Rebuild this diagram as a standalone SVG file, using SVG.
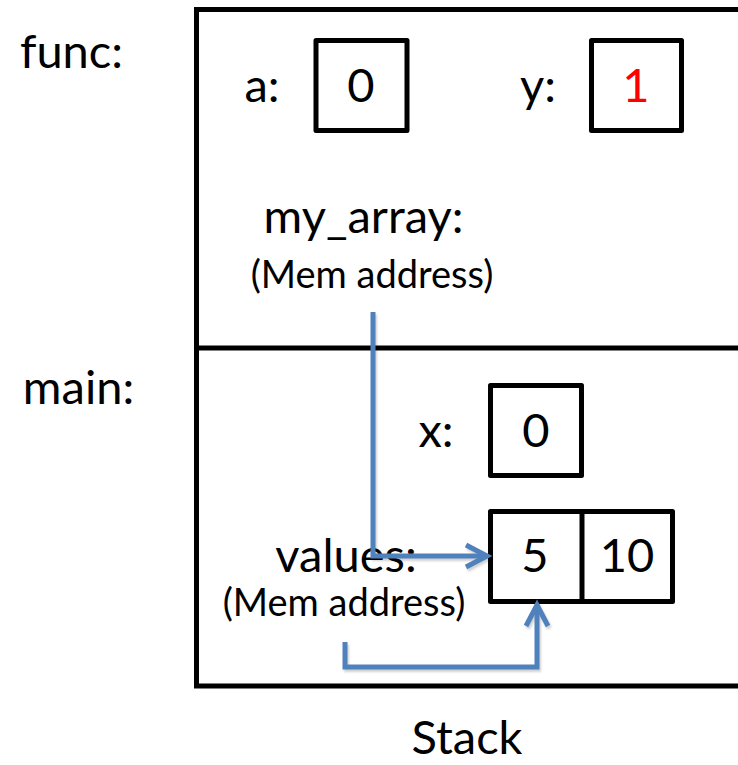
<svg xmlns="http://www.w3.org/2000/svg" width="738" height="765" viewBox="0 0 738 765">
  <style>
    .frame { fill: none; stroke: #000; stroke-width: 5; }
    .cell { fill: #fff; stroke: #000; stroke-width: 5; stroke-linejoin: round; }
    .t { font-family: Lato, "Open Sans", "Liberation Sans", sans-serif; fill: #000; text-anchor: middle; }
    .lbl { font-size: 47px; }
    .small { font-size: 38px; }
    .ptr { fill: none; stroke: #4F81BD; stroke-width: 5; stroke-linejoin: miter; }
    .shadow { fill: none; stroke: #000; stroke-opacity: 0.18; stroke-width: 5; }
  </style>
  <defs>
    <filter id="soft" x="-10%" y="-10%" width="120%" height="120%">
      <feGaussianBlur stdDeviation="1.2"/>
    </filter>
  </defs>

  <!-- stack frame, open on the right -->
  <g id="stack">
    <path class="frame" d="M 740 9.5 H 196.5 V 686 H 740"/>
    <line class="frame" x1="196.5" y1="348" x2="740" y2="348"/>
    <text class="t lbl" x="467" y="754">Stack</text>
  </g>

  <!-- frame labels -->
  <g id="func-label"><text class="t lbl" x="71.5" y="68">func:</text></g>
  <g id="main-label"><text class="t lbl" x="78.5" y="404">main:</text></g>

  <!-- func frame -->
  <g id="var-a">
    <text class="t lbl" x="262" y="102">a:</text>
    <rect class="cell" x="316" y="40.5" width="91" height="90"/>
    <text class="t lbl" x="361" y="102">0</text>
  </g>
  <g id="var-y">
    <text class="t lbl" x="538" y="102">y:</text>
    <rect class="cell" x="591.5" y="40.5" width="90" height="90"/>
    <text class="t lbl" x="636" y="102" style="fill:#FF0000">1</text>
  </g>
  <g id="var-my_array">
    <text class="t lbl" x="363.5" y="233">my_array:</text>
    <text class="t small" x="372" y="288">(Mem address)</text>
  </g>

  <!-- main frame -->
  <g id="var-x">
    <text class="t lbl" x="436" y="447">x:</text>
    <rect class="cell" x="490.5" y="385.5" width="91" height="90"/>
    <text class="t lbl" x="536" y="447">0</text>
  </g>
  <g id="var-values">
    <text class="t lbl" x="346" y="572">values:</text>
    <text class="t small" x="344" y="616">(Mem address)</text>
  </g>
  <g id="array">
    <rect class="cell" x="490.5" y="511.5" width="182" height="90"/>
    <line class="cell" x1="582" y1="511.5" x2="582" y2="601.5"/>
    <text class="t lbl" x="535" y="572">5</text>
    <text class="t lbl" x="627" y="572">10</text>
  </g>

  <!-- pointer connectors -->
  <g id="connectors">
    <g filter="url(#soft)" transform="translate(1.5,2.5)">
      <path class="shadow" d="M 373 312 V 556 H 486 M 466 545 L 487 556 L 466 567"/>
      <path class="shadow" d="M 345 642 V 667 H 537 V 606 M 526 626 L 537 605 L 548 626"/>
    </g>
    <path class="ptr" d="M 373 312 V 556 H 486"/>
    <path class="ptr" d="M 466 545 L 487 556 L 466 567"/>
    <path class="ptr" d="M 345 642 V 667 H 537 V 606"/>
    <path class="ptr" d="M 526 626 L 537 605 L 548 626"/>
  </g>
</svg>
